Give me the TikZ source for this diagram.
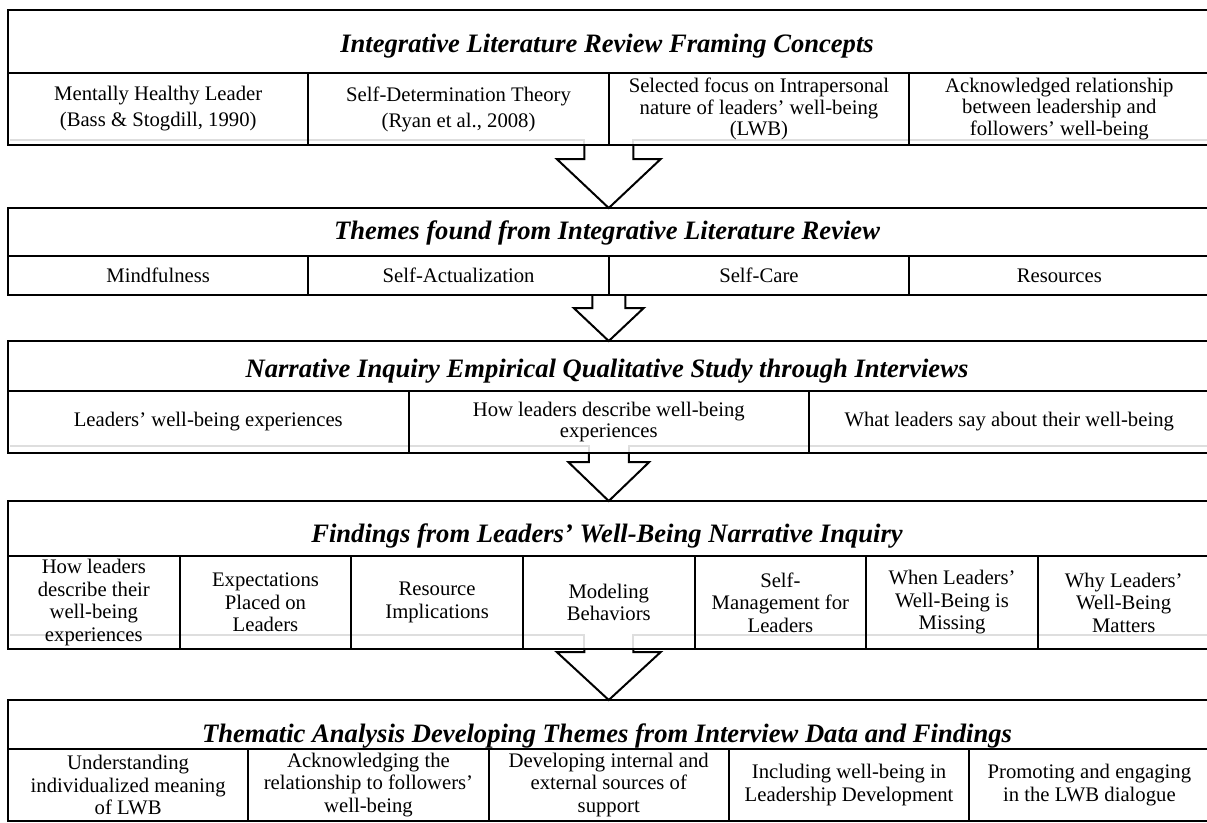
\documentclass[tikz,border=0pt]{standalone}
\usepackage{fontspec}
\setmainfont{Liberation Serif}
\usetikzlibrary{calc}
\newcommand\hdfont{\bfseries\itshape\fontsize{26.6}{30}\selectfont}
\newcommand\cellfnt{\fontsize{20.7}{22.5}\selectfont}
\begin{document}
\begin{tikzpicture}[x=1pt,y=-1pt,
  frame/.style={draw, line width=2pt, rectangle, inner sep=0pt, outer sep=0pt, minimum width=1201.5pt},
  cellbox/.style={draw, line width=2pt, rectangle, inner sep=0pt, outer sep=0pt, align=center, font=\cellfnt},
  rowAcell/.style={cellbox, minimum width=300.375pt, minimum height=72pt},
  rowBcell/.style={cellbox, minimum width=300.375pt, minimum height=39pt},
  rowCcell/.style={cellbox, minimum width=400.5pt, minimum height=62pt},
  rowDcell/.style={cellbox, minimum width=171.643pt, minimum height=93pt},
  rowEcell/.style={cellbox, minimum width=240.3pt, minimum height=72pt},
  heading/.style={anchor=base, inner sep=0pt, font=\hdfont},
  blockarrow/.style={draw, fill=white, line width=2pt, line join=miter},
  ghost/.style={draw=black!13, line width=2pt}
]
\useasboundingbox (0,0) rectangle (1207,822);
\clip (0,0) rectangle (1207,822);

% row frames
\node[frame, minimum height=135pt] (r1) at (608.75,77.5) {};
\node[frame, minimum height=87pt]  (r2) at (608.75,251.5) {};
\node[frame, minimum height=112pt] (r3) at (608.75,397) {};
\node[frame, minimum height=148pt] (r4) at (608.75,575) {};
\node[frame, minimum height=121pt] (r5) at (608.75,760.5) {};

% faint traces of the arrow shafts inside the rows
\draw[ghost] ($(r1.south west)+(2,-5)$) -- ($(r1.south)+(-24.5,-5)$) -- ($(r1.south)+(-24.5,-1)$);
\draw[ghost] ($(r1.south)+(24.5,-1)$) -- ($(r1.south)+(24.5,-5)$) -- ($(r1.south east)+(0,-5)$);
\draw[ghost] ($(r3.south west)+(2,-7)$) -- ($(r3.south)+(-20,-7)$) -- ($(r3.south)+(-20,-1)$);
\draw[ghost] ($(r3.south)+(20,-1)$) -- ($(r3.south)+(20,-7)$) -- ($(r3.south east)+(0,-7)$);
\draw[ghost] ($(r4.south west)+(2,-14)$) -- ($(r4.south)+(-24.5,-14)$) -- ($(r4.south)+(-24.5,-1)$);
\draw[ghost] ($(r4.south)+(24.5,-1)$) -- ($(r4.south)+(24.5,-14)$) -- ($(r4.south east)+(0,-14)$);

% headings
\node[heading] (h1) at (607,52.7) {Integrative Literature Review Framing Concepts};
\node[heading] (h2) at (607,239.5) {Themes found from Integrative Literature Review};
\node[heading] (h3) at (607,377) {Narrative Inquiry Empirical Qualitative Study through Interviews};
\node[heading] (h4) at (607,542) {Findings from Leaders’ Well-Being Narrative Inquiry};
\node[heading] (h5) at (607,742) {Thematic Analysis Developing Themes from Interview Data and Findings};

% row 1 cells
\node[rowAcell, anchor=south west, font=\fontsize{20.7}{26}\selectfont] (c11) at (r1.south west) {Mentally Healthy Leader\\(Bass \& Stogdill, 1990)};
\node[rowAcell, anchor=west, font=\fontsize{20.7}{26}\selectfont] (c12) at (c11.east) {Self-Determination Theory\\(Ryan et al., 2008)};
\node[rowAcell, anchor=west, font=\fontsize{20.7}{21.5}\selectfont] (c13) at (c12.east) {Selected focus on Intrapersonal\\nature of leaders’ well-being\\(LWB)};
\node[rowAcell, anchor=west, font=\fontsize{20.7}{21.5}\selectfont] (c14) at (c13.east) {Acknowledged relationship\\between leadership and\\followers’ well-being};

% row 2 cells
\node[rowBcell, anchor=south west] (c21) at (r2.south west) {Mindfulness};
\node[rowBcell, anchor=west] (c22) at (c21.east) {Self-Actualization};
\node[rowBcell, anchor=west] (c23) at (c22.east) {Self-Care};
\node[rowBcell, anchor=west] (c24) at (c23.east) {Resources};

% row 3 cells
\node[rowCcell, anchor=south west] (c31) at (r3.south west) {Leaders’ well-being experiences};
\node[rowCcell, anchor=west, font=\fontsize{20.7}{20.5}\selectfont] (c32) at (c31.east) {How leaders describe well-being\\experiences};
\node[rowCcell, anchor=west] (c33) at (c32.east) {What leaders say about their well-being};

% row 4 cells
\node[rowDcell, anchor=south west] (c41) at (r4.south west) {How leaders\\describe their\\well-being\\experiences};
\node[rowDcell, anchor=west] (c42) at (c41.east) {Expectations\\Placed on\\Leaders};
\node[rowDcell, anchor=west] (c43) at (c42.east) {Resource\\Implications};
\node[rowDcell, anchor=west] (c44) at (c43.east) {Modeling\\Behaviors};
\node[rowDcell, anchor=west] (c45) at (c44.east) {Self-\\Management for\\Leaders};
\node[rowDcell, anchor=west] (c46) at (c45.east) {When Leaders’\\Well-Being is\\Missing};
\node[rowDcell, anchor=west] (c47) at (c46.east) {Why Leaders’\\Well-Being\\Matters};

% row 5 cells
\node[rowEcell, anchor=south west] (c51) at (r5.south west) {Understanding\\individualized meaning\\of LWB};
\node[rowEcell, anchor=west] (c52) at (c51.east) {Acknowledging the\\relationship to followers’\\well-being};
\node[rowEcell, anchor=west] (c53) at (c52.east) {Developing internal and\\external sources of\\support};
\node[rowEcell, anchor=west] (c54) at (c53.east) {Including well-being in\\Leadership Development};
\node[rowEcell, anchor=west] (c55) at (c54.east) {Promoting and engaging\\in the LWB dialogue};

% block arrows between the rows
\draw[blockarrow] ($(r1.south)+(-24.5,1)$) -- ($(r1.south)+(-24.5,14)$) -- ($(r1.south)+(-52,14)$)
  -- (r2.north) -- ($(r1.south)+(52,14)$) -- ($(r1.south)+(24.5,14)$) -- ($(r1.south)+(24.5,1)$);
\draw[blockarrow] ($(r2.south)+(-16.5,1)$) -- ($(r2.south)+(-16.5,13)$) -- ($(r2.south)+(-35,13)$)
  -- (r3.north) -- ($(r2.south)+(35,13)$) -- ($(r2.south)+(16.5,13)$) -- ($(r2.south)+(16.5,1)$);
\draw[blockarrow] ($(r3.south)+(-20,1)$) -- ($(r3.south)+(-20,9)$) -- ($(r3.south)+(-40.5,9)$)
  -- (r4.north) -- ($(r3.south)+(40.5,9)$) -- ($(r3.south)+(20,9)$) -- ($(r3.south)+(20,1)$);
\draw[blockarrow] ($(r4.south)+(-24.5,1)$) -- ($(r4.south)+(-24.5,3)$) -- ($(r4.south)+(-52,3)$)
  -- (r5.north) -- ($(r4.south)+(52,3)$) -- ($(r4.south)+(24.5,3)$) -- ($(r4.south)+(24.5,1)$);
\end{tikzpicture}
\end{document}
